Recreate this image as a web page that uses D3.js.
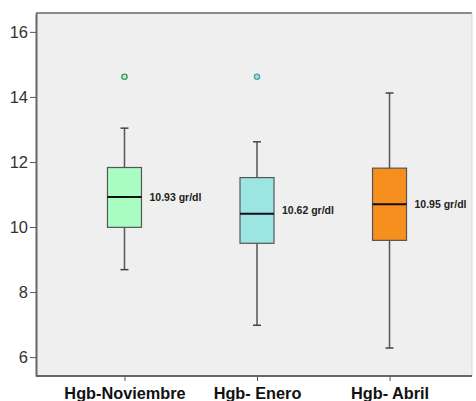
<!DOCTYPE html>
<html lang="es">
<head>
<meta charset="utf-8">
<title>Hgb boxplot</title>
<script src="https://cdn.jsdelivr.net/npm/d3@7"></script>
<style>
  body { margin: 0; background: white; }
  text { font-family: "Liberation Sans", Arial, sans-serif; }
</style>
</head>
<body>
<script>
// data
var categories = ["Hgb-Noviembre", "Hgb- Enero", "Hgb- Abril"];
var whiskerLow  = [8.69, 6.98, 6.28];
var q1          = [9.99, 9.50, 9.59];
var medians     = [10.92, 10.41, 10.70];
var q3          = [11.83, 11.52, 11.81];
var whiskerHigh = [13.04, 12.62, 14.12];
var outliers    = [[14.62], [14.62], []];
var meanLabels  = ["10.93 gr/dl", "10.62 gr/dl", "10.95 gr/dl"];
var labelAt     = [10.9, 10.5, 10.7];
var yTicks      = [6, 8, 10, 12, 14, 16];

var fills   = ["#a9fdc2", "#9ce5e3", "#f78f1e"];
var outCols = ["#4b8f62", "#4aa3a6", "#888"];

var W = 476, H = 401;
var mLeft = 36, mRight = 472, mTop = 13, mBottom = 376;

var svg = d3.select("body").append("svg")
  .attr("width", W).attr("height", H);

var x = d3.scalePoint().domain(categories).range([39, 475]).padding(0.645);
var y = d3.scaleLinear().domain([5.42, 16.58]).range([mBottom, mTop]);

svg.append("rect")
  .attr("x", mLeft).attr("y", mTop)
  .attr("width", mRight - mLeft).attr("height", mBottom - mTop)
  .attr("fill", "#efefef");

// frame
svg.append("line").attr("x1", mLeft).attr("x2", mRight).attr("y1", mTop).attr("y2", mTop)
  .attr("stroke", "#8a8a8a").attr("stroke-width", 2);
svg.append("line").attr("x1", mRight).attr("x2", mRight).attr("y1", mTop).attr("y2", mBottom)
  .attr("stroke", "#d8d8d8").attr("stroke-width", 1);

var yAxis = svg.append("g")
  .attr("transform", "translate(" + mLeft + ",0)")
  .call(d3.axisLeft(y).tickValues(yTicks).tickSize(6).tickPadding(2).tickSizeOuter(0));
yAxis.select(".domain").attr("stroke", "#666").attr("stroke-width", 2);
yAxis.selectAll(".tick line").attr("stroke", "#555");
yAxis.selectAll(".tick text").attr("font-size", 16.5).attr("fill", "#333")
  .attr("font-family", "Liberation Sans, Arial, sans-serif");

var xAxis = svg.append("g")
  .attr("transform", "translate(0," + mBottom + ")")
  .call(d3.axisBottom(x).tickSize(5).tickPadding(6).tickSizeOuter(0));
xAxis.select(".domain").attr("d", "M" + mLeft + ",0H" + mRight)
  .attr("stroke", "#666").attr("stroke-width", 2);
xAxis.selectAll(".tick line").attr("stroke", "#555");
xAxis.selectAll(".tick text").attr("font-size", 16.3).attr("font-weight", "bold")
  .attr("fill", "#111").attr("font-family", "Liberation Sans, Arial, sans-serif");

var boxW = 34, capW = 8;

var g = svg.selectAll(".box").data(categories).enter().append("g").attr("class", "box");

g.append("line")
  .attr("x1", function(d) { return x(d); }).attr("x2", function(d) { return x(d); })
  .attr("y1", function(d, i) { return y(whiskerLow[i]); })
  .attr("y2", function(d, i) { return y(whiskerHigh[i]); })
  .attr("stroke", "#555").attr("stroke-width", 1.5);

[whiskerLow, whiskerHigh].forEach(function(arr) {
  g.append("line")
    .attr("x1", function(d) { return x(d) - capW / 2; })
    .attr("x2", function(d) { return x(d) + capW / 2; })
    .attr("y1", function(d, i) { return y(arr[i]); })
    .attr("y2", function(d, i) { return y(arr[i]); })
    .attr("stroke", "#444").attr("stroke-width", 1.5);
});

g.append("rect")
  .attr("x", function(d) { return x(d) - boxW / 2; })
  .attr("y", function(d, i) { return y(q3[i]); })
  .attr("width", boxW)
  .attr("height", function(d, i) { return y(q1[i]) - y(q3[i]); })
  .attr("fill", function(d, i) { return fills[i]; })
  .attr("stroke", "#555").attr("stroke-width", 1.2);

g.append("line")
  .attr("x1", function(d) { return x(d) - boxW / 2; })
  .attr("x2", function(d) { return x(d) + boxW / 2; })
  .attr("y1", function(d, i) { return y(medians[i]); })
  .attr("y2", function(d, i) { return y(medians[i]); })
  .attr("stroke", "#111").attr("stroke-width", 2);

g.append("text")
  .attr("x", function(d) { return x(d) + boxW / 2 + 8; })
  .attr("y", function(d, i) { return y(labelAt[i]); })
  .attr("dy", "0.35em")
  .attr("font-size", 10.5).attr("font-weight", "bold").attr("fill", "#222")
  .text(function(d, i) { return meanLabels[i]; });

g.each(function(d, i) {
  d3.select(this).selectAll("circle").data(outliers[i]).enter().append("circle")
    .attr("cx", x(d)).attr("cy", function(v) { return y(v); })
    .attr("r", 2.6)
    .attr("fill", fills[i]).attr("stroke", outCols[i]).attr("stroke-width", 1.4);
});
</script>
</body>
</html>
